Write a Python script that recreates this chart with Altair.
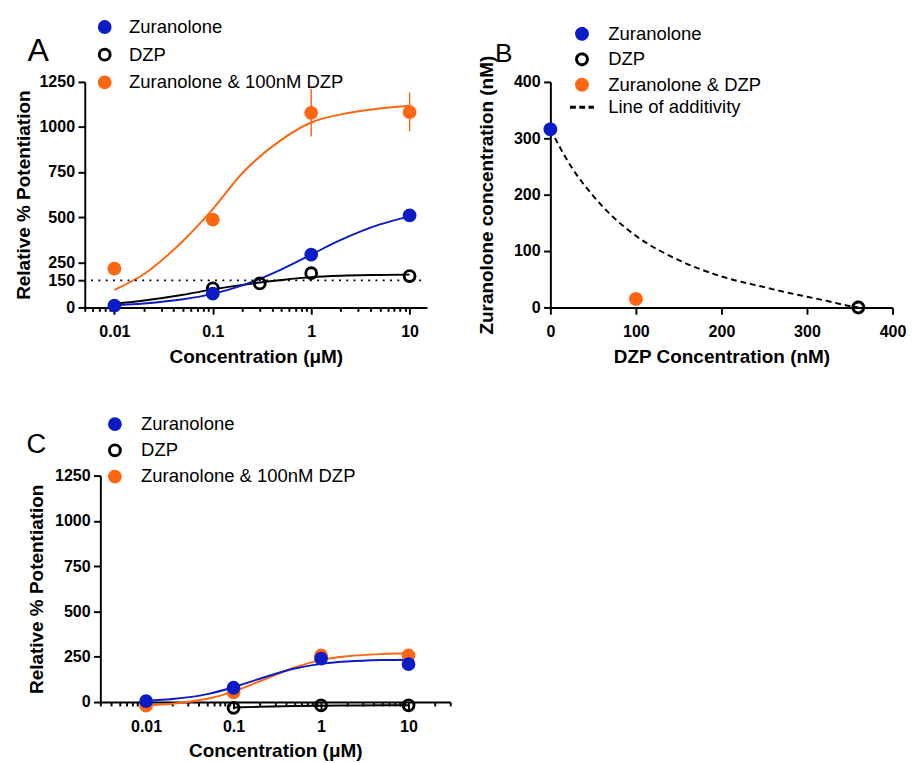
import altair as alt
import pandas as pd

BLUE = "#0B1BC6"
ORANGE = "#FF6611"
BLACK = "#000000"
FONT = "Liberation Sans"

# ---------------- Panel A data ----------------
A_names = ["Zuranolone", "DZP", "Zuranolone & 100nM DZP"]
A_conc = [0.01, 0.1, 1, 10]
A_zur = [10, 77, 293, 510]
A_combo = [215, 487, 1079, 1083]
A_dzp_conc = [0.1, 0.3, 1, 10]
A_dzp = [106, 133, 190, 174]
A_err_conc = [1, 10]
A_err_low = [948, 977]
A_err_high = [1211, 1192]
A_fit_x = [0.01, 0.02, 0.05, 0.1, 0.2, 0.5, 1, 2, 5, 10]
A_fit_zur = [12, 22, 45, 75, 122, 211, 293, 374, 460, 505]
A_fit_dzp = [20, 38, 70, 100, 125, 152, 168, 176, 180, 182]
A_fit_combo = [97, 185, 370, 545, 745, 930, 1025, 1070, 1103, 1118]
A_ref_level = [150]
A_ref_from = [0.0058]
A_ref_to = [13.4]
A_yticks = [0, 150, 250, 500, 750, 1000, 1250]

# ---------------- Panel B data ----------------
B_names = ["Zuranolone", "DZP", "Zuranolone & DZP", "Line of additivity"]
B_x = [0, 360, 100]
B_y = [316, 0, 15]
B_series = ["Zuranolone", "DZP", "Zuranolone & DZP"]
B_add_x = [0, 25, 50, 75, 100, 150, 200, 250, 275, 300, 325, 345, 360]
B_add_y = [316, 248, 198, 158, 127, 84, 55, 36, 27, 19, 11, 4, 0]
B_ticks = [0, 100, 200, 300, 400]

# ---------------- Panel C data ----------------
C_names = ["Zuranolone", "\u00a0DZP", "Zuranolone & 100nM DZP"]
C_conc = [0.01, 0.1, 1, 10]
C_zur = [5, 79, 240, 209]
C_combo = [-20, 54, 257, 257]
C_dzp_conc = [0.1, 1, 10]
C_dzp = [-32, -18, -18]
C_fit_x = [0.01, 0.02, 0.05, 0.1, 0.2, 0.5, 1, 2, 5, 10]
C_fit_zur = [8, 17, 44, 82, 129, 185, 211, 224, 232, 234]
C_fit_combo = [-18, -9, 18, 58, 115, 191, 233, 253, 265, 269]
C_fit_dzp_x = [0.1, 0.2, 0.5, 1, 2, 5, 10]
C_fit_dzp = [-30, -26, -22, -20, -19, -18, -18]
C_yticks = [0, 250, 500, 750, 1000, 1250]


def log_ticks(lo, hi):
    vals = []
    for e in range(-4, 3):
        for m in range(1, 10):
            v = float(f"{m * 10.0 ** e:.6g}")
            if lo - 1e-12 <= v <= hi + 1e-12:
                vals.append(v)
    return vals


DEC = "abs(log(datum.value)/LN10 - round(log(datum.value)/LN10)) < 1e-6"


def log_axis(ticks):
    return alt.Axis(
        values=ticks,
        labelExpr=f"{DEC} ? format(datum.value, '~g') : ''",
        labelOverlap=False,
        tickSize={"condition": {"test": DEC, "value": 7}, "value": 4},
        labelPadding=10,
        titlePadding=8,
        title="Concentration (\u03bcM)",
        labelFlush=False,
    )


def lin_y_axis(vals, title, tpad, offset=0):
    return alt.Axis(values=vals, tickSize=7, labelPadding=3.5, titlePadding=tpad,
                    title=title, labelOverlap=False, format="d", offset=offset)


def legend(x, y, rowpad, loff):
    return alt.Legend(orient="none", legendX=x, legendY=y, title=None,
                      rowPadding=rowpad, labelFontSize=19, labelFont=FONT,
                      labelColor="black", symbolSize=125, symbolStrokeWidth=3,
                      labelOffset=loff, padding=0, labelLimit=400)


def letter(txt, dx, dy, size):
    return alt.Chart(pd.DataFrame({"t": [txt]})).mark_text(
        align="left", baseline="alphabetic", fontSize=size, font=FONT, color="black"
    ).encode(x=alt.value(dx), y=alt.value(dy), text="t:N")


# ---------------- Panel A ----------------
ax_xA = log_axis(log_ticks(0.005, 15))
sc_xA = alt.Scale(type="log", domain=[0.005, 15], nice=False)
sc_yA = alt.Scale(domain=[0, 1250], nice=False, zero=False)
ax_yA = lin_y_axis(A_yticks, "Relative % Potentiation", 6)


def XA(f):
    return alt.X(f, type="quantitative", scale=sc_xA, axis=ax_xA)


def YA(f):
    return alt.Y(f, type="quantitative", scale=sc_yA, axis=ax_yA)


fitA = pd.DataFrame({"x": A_fit_x, "zur": A_fit_zur, "dzp": A_fit_dzp, "combo": A_fit_combo})
lineA = [
    alt.Chart(fitA).mark_line(color=c, strokeWidth=2, interpolate="monotone").encode(x=XA("x"), y=YA(f))
    for f, c in [("dzp", BLACK), ("zur", BLUE), ("combo", ORANGE)]
]
refA = alt.Chart(pd.DataFrame({"a": A_ref_from, "b": A_ref_to, "y": A_ref_level})).mark_rule(
    color="black", strokeWidth=2, strokeDash=[2, 5.5]
).encode(x=XA("a"), x2="b", y=YA("y"))
errA = alt.Chart(pd.DataFrame({"x": A_err_conc, "lo": A_err_low, "hi": A_err_high})).mark_rule(
    color=ORANGE, strokeWidth=1.5
).encode(x=XA("x"), y=YA("lo"), y2="hi")

ptsA = pd.concat([
    pd.DataFrame({"x": A_conc, "y": A_combo, "sA": A_names[2]}),
    pd.DataFrame({"x": A_dzp_conc, "y": A_dzp, "sA": A_names[1]}),
    pd.DataFrame({"x": A_conc, "y": A_zur, "sA": A_names[0]}),
])
legA = legend(11, -66, 3.5, 15.5)
pointA = alt.Chart(ptsA).mark_point(shape="circle", size=125, strokeWidth=3, opacity=1).encode(
    x=XA("x"), y=YA("y"),
    fill=alt.Fill("sA:N", scale=alt.Scale(domain=A_names, range=[BLUE, "transparent", ORANGE]), legend=legA),
    stroke=alt.Stroke("sA:N", scale=alt.Scale(domain=A_names, range=[BLUE, BLACK, ORANGE]), legend=legA),
)
panelA = alt.layer(*lineA, refA, errA, pointA, letter("A", -59, -22, 33)).properties(width=352, height=232)

# ---------------- Panel B ----------------
sc_xB = alt.Scale(domain=[0, 400], nice=False)
sc_yB = alt.Scale(domain=[0, 400], nice=False)
ax_xB = alt.Axis(values=B_ticks, tickSize=7, labelPadding=10, titlePadding=8,
                 title="DZP Concentration (nM)", labelOverlap=False, labelFlush=False)
ax_yB = lin_y_axis(B_ticks, "Zuranolone concentration (nM)", 18)


def XB(f):
    return alt.X(f, type="quantitative", scale=sc_xB, axis=ax_xB)


def YB(f):
    return alt.Y(f, type="quantitative", scale=sc_yB, axis=ax_yB)


addB = alt.Chart(pd.DataFrame({"x": B_add_x, "y": B_add_y})).mark_line(
    color="black", strokeWidth=2, strokeDash=[6, 4], interpolate="monotone"
).encode(x=XB("x"), y=YB("y"))
legB = legend(23, -59, 1.2, 17.5)
pointB = alt.Chart(pd.DataFrame({"x": B_x, "y": B_y, "sB": B_series})).mark_point(
    size=125, strokeWidth=3, opacity=1
).encode(
    x=XB("x"), y=YB("y"),
    fill=alt.Fill("sB:N", scale=alt.Scale(domain=B_names, range=[BLUE, "transparent", ORANGE, "transparent"]), legend=legB),
    stroke=alt.Stroke("sB:N", scale=alt.Scale(domain=B_names, range=[BLUE, BLACK, ORANGE, BLACK]), legend=legB),
    shape=alt.Shape("sB:N", scale=alt.Scale(domain=B_names, range=["circle", "circle", "circle", "M-2.2,0H2.2"]), legend=legB),
    strokeDash=alt.StrokeDash("sB:N", scale=alt.Scale(domain=B_names, range=[[1, 0], [1, 0], [1, 0], [6, 3.5]]), legend=legB),
)
panelB = alt.layer(addB, pointB, letter("B", -57, -21, 27)).properties(width=352, height=232)

# ---------------- Panel C ----------------
C_SHIFT = 16
ax_xC = log_axis(log_ticks(0.003, 30))
sc_xC = alt.Scale(type="log", domain=[0.003, 30], nice=False, range=[C_SHIFT, C_SHIFT + 360])
sc_yC = alt.Scale(domain=[0, 1250], nice=False, zero=False)
ax_yC = lin_y_axis(C_yticks, "Relative % Potentiation", 8, offset=-C_SHIFT)


def XC(f):
    return alt.X(f, type="quantitative", scale=sc_xC, axis=ax_xC)


def YC(f):
    return alt.Y(f, type="quantitative", scale=sc_yC, axis=ax_yC)


fitC = pd.DataFrame({"x": C_fit_x, "zur": C_fit_zur, "combo": C_fit_combo})
fitCd = pd.DataFrame({"x": C_fit_dzp_x, "dzp": C_fit_dzp})
lineC = [
    alt.Chart(fitCd).mark_line(color=BLACK, strokeWidth=2, interpolate="monotone").encode(x=XC("x"), y=YC("dzp")),
    alt.Chart(fitC).mark_line(color=ORANGE, strokeWidth=2, interpolate="monotone").encode(x=XC("x"), y=YC("combo")),
    alt.Chart(fitC).mark_line(color=BLUE, strokeWidth=2, interpolate="monotone").encode(x=XC("x"), y=YC("zur")),
]
ptsC = pd.concat([
    pd.DataFrame({"x": C_conc, "y": C_combo, "sC": C_names[2]}),
    pd.DataFrame({"x": C_dzp_conc, "y": C_dzp, "sC": C_names[1]}),
    pd.DataFrame({"x": C_conc, "y": C_zur, "sC": C_names[0]}),
])
legC = legend(5.5 + C_SHIFT, -62.5, 2, 17.4)
pointC = alt.Chart(ptsC).mark_point(shape="circle", size=125, strokeWidth=3, opacity=1).encode(
    x=XC("x"), y=YC("y"),
    fill=alt.Fill("sC:N", scale=alt.Scale(domain=C_names, range=[BLUE, "transparent", ORANGE]), legend=legC),
    stroke=alt.Stroke("sC:N", scale=alt.Scale(domain=C_names, range=[BLUE, BLACK, ORANGE]), legend=legC),
)
panelC = alt.layer(*lineC, pointC, letter("C", -76 + C_SHIFT, -23, 28)).properties(
    width=360 + C_SHIFT, height=233)

IND = dict(x="independent", y="independent", fill="independent", stroke="independent",
           shape="independent", strokeDash="independent")

chart = alt.concat(
    panelA, panelB, panelC, columns=2, bounds="flush", align="each",
    spacing={"column": 479 - (360 + C_SHIFT), "row": 173},
).resolve_scale(**IND).properties(
    padding={"left": 5, "top": -1, "right": 5, "bottom": 5}
).configure_view(stroke=None).configure_axis(
    domainColor="black", domainWidth=2, tickColor="black", tickWidth=2,
    labelColor="black", titleColor="black", labelFont=FONT, titleFont=FONT,
    labelFontSize=16.5, labelFontWeight="bold", titleFontSize=19.5, titleFontWeight="bold",
    grid=False,
)

chart.save("out.html", embed_options={"renderer": "svg", "actions": False})
